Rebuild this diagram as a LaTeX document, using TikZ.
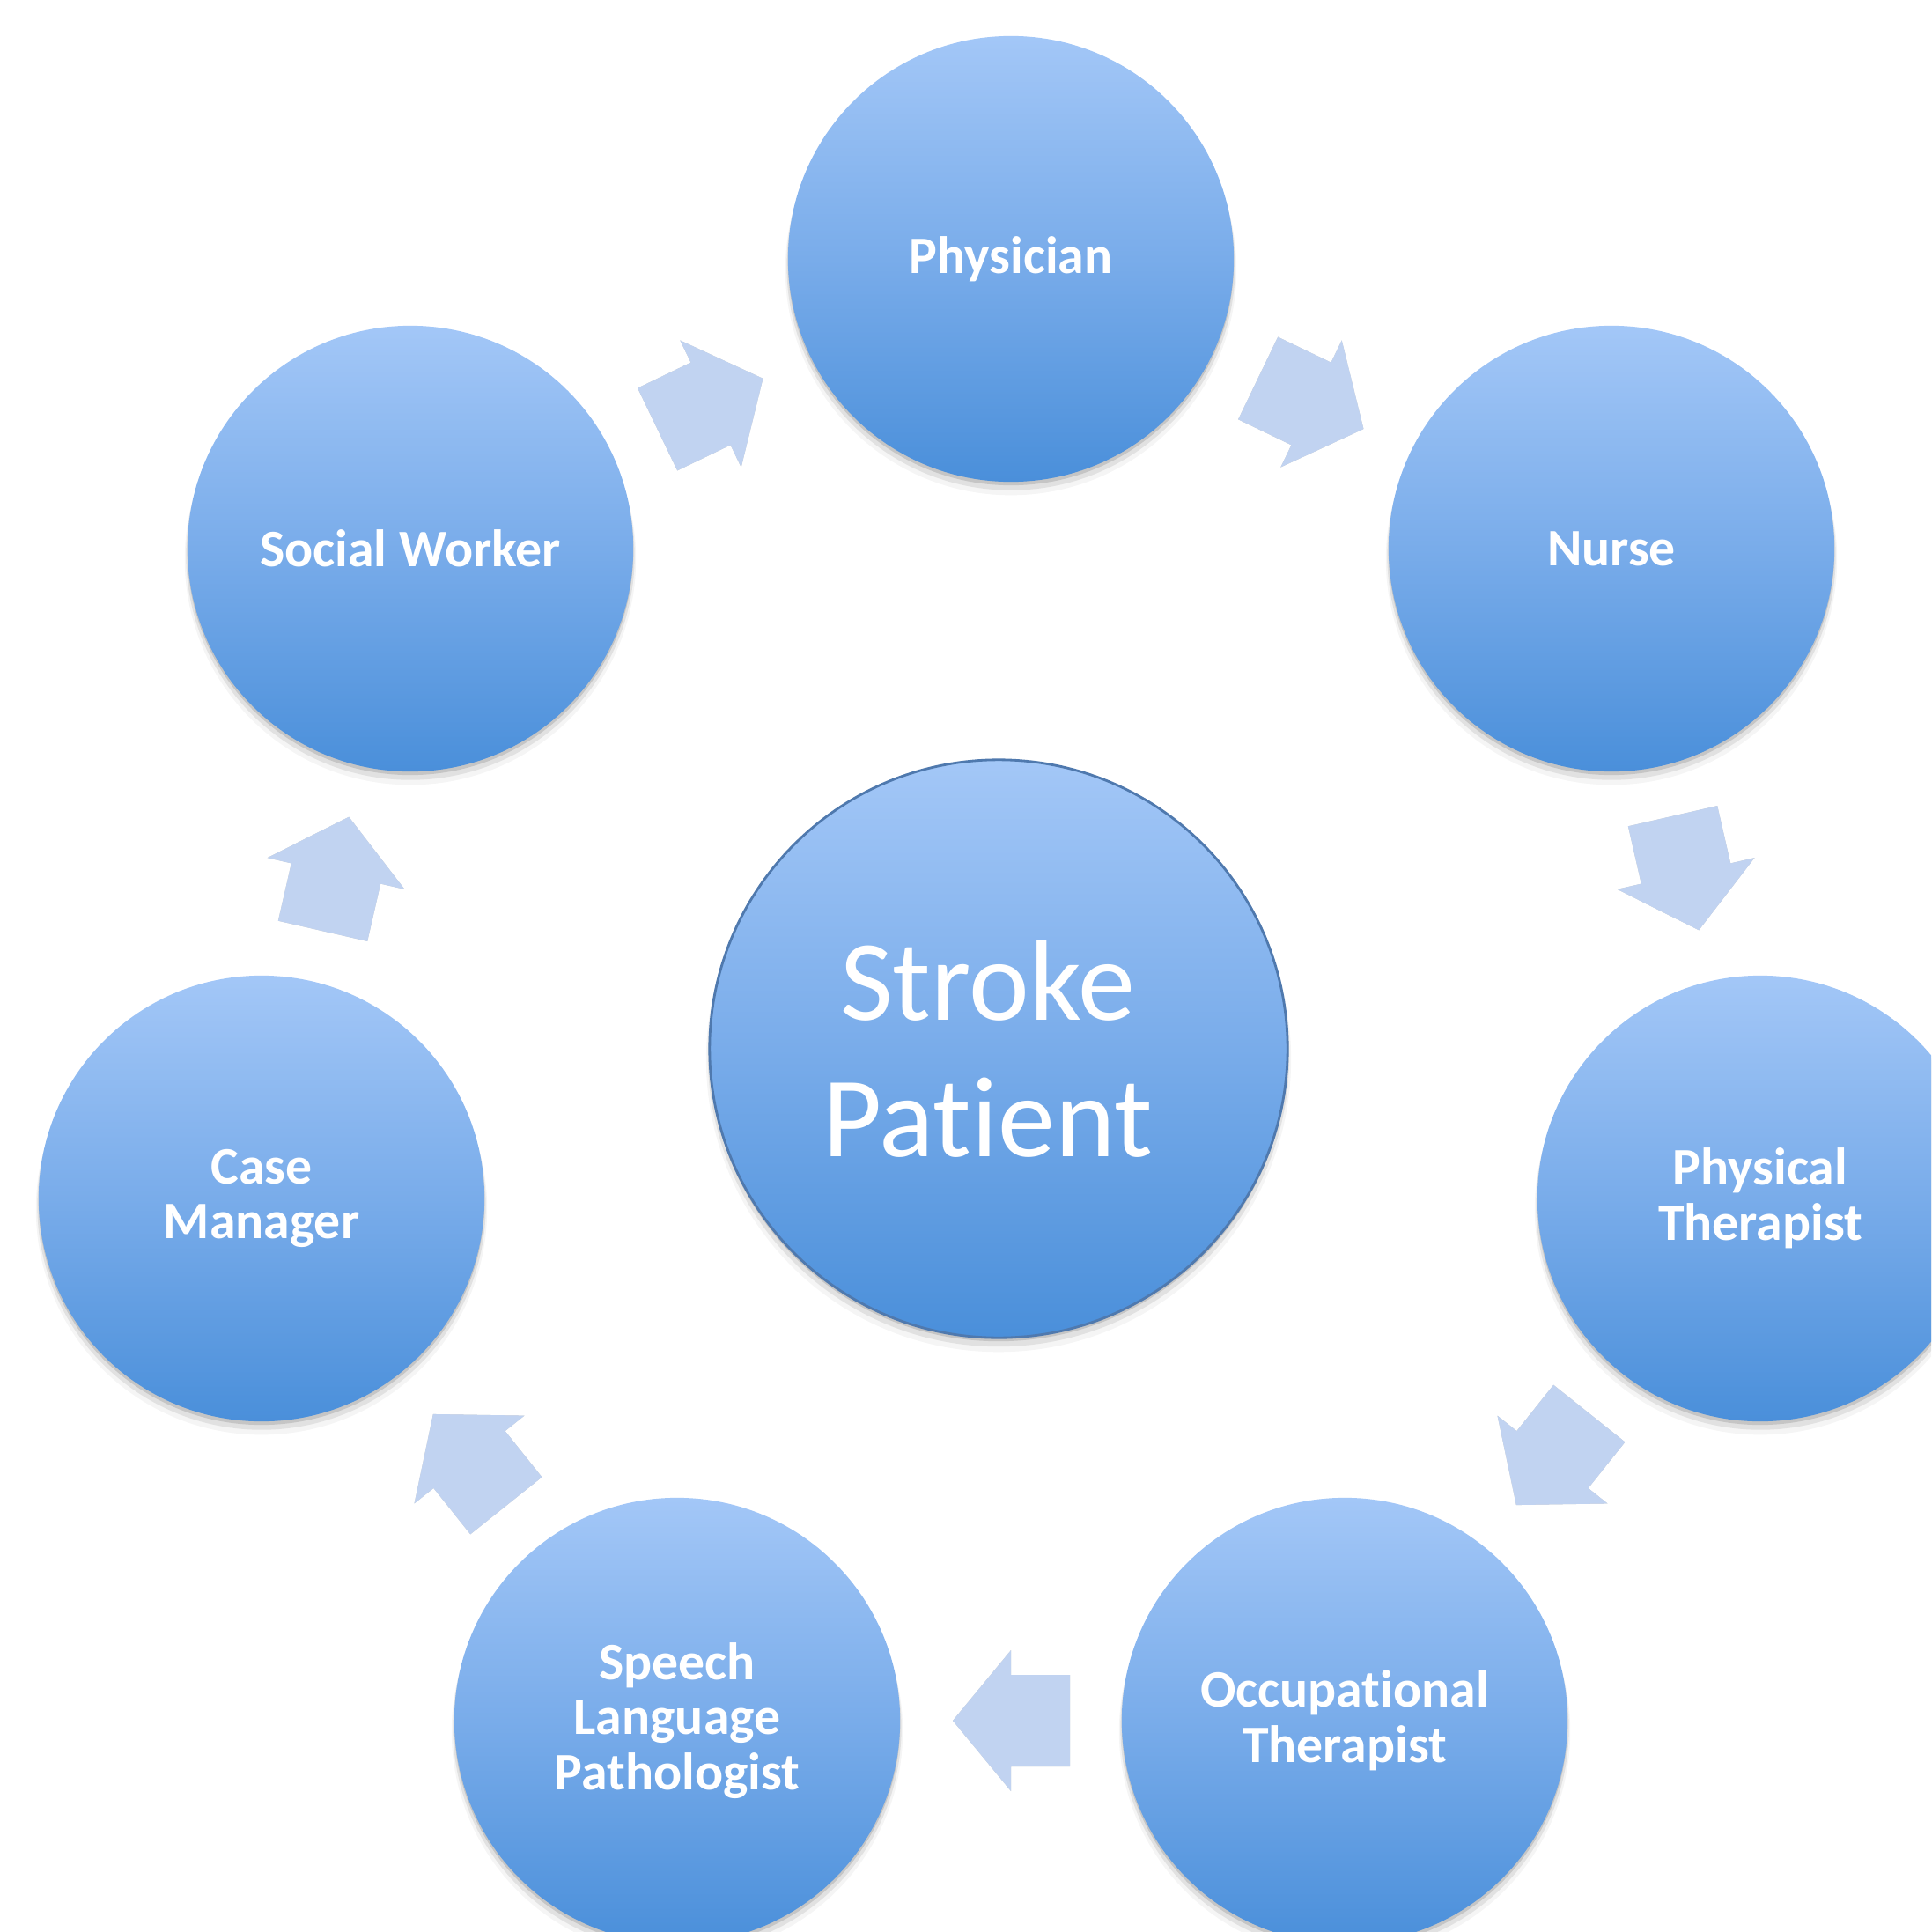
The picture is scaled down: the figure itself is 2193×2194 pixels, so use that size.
\documentclass[tikz,border=0pt]{standalone}
\usepackage{fontspec}
\setmainfont{Carlito}[Ligatures=NoCommon]
\usetikzlibrary{calc,shadows}
\definecolor{ctop}{HTML}{A3C7F7}
\definecolor{cmid}{HTML}{79ACEA}
\definecolor{cbot}{HTML}{4A8FDA}
\definecolor{arrowfill}{HTML}{C1D3F1}
\definecolor{cedge}{HTML}{4F79AE}
\tikzset{
  softshadow/.style={
    general shadow={fill=black, opacity=0.12, shadow yshift=-0.04cm},
    general shadow={fill=black, opacity=0.08, shadow yshift=-0.08cm, shadow scale=1.006},
    general shadow={fill=black, opacity=0.04, shadow yshift=-0.12cm, shadow scale=1.012}},
  role/.style={circle, minimum size=5.06cm, inner sep=0pt, softshadow,
    top color=ctop, bottom color=cbot, middle color=cmid, text=white,
    align=center, font=\bfseries\fontsize{17}{17.8}\selectfont},
  hub/.style={role, minimum size=6.56cm, draw=cedge, line width=0.8pt,
    font=\fontsize{37}{44}\selectfont},
  blockarrow/.style={fill=arrowfill, draw=none},
}
\newcommand\cyclearrow[2]{%
  \foreach \d/\o in {0.03/0.10,0.06/0.07,0.09/0.04}{%
    \fill[black, opacity=\o, yshift=-\d cm, shift={(#1)}, rotate=#2]
      (-67,-52) -- (0,-52) -- (0,-80) -- (66,0) -- (0,80) -- (0,52) -- (-67,52) -- cycle;}
  \fill[blockarrow, shift={(#1)}, rotate=#2]
      (-67,-52) -- (0,-52) -- (0,-80) -- (66,0) -- (0,80) -- (0,52) -- (-67,52) -- cycle;}
\begin{document}
\begin{tikzpicture}[x=0.01cm, y=-0.01cm]
\useasboundingbox (0,0) rectangle (2193,2194);
\fill[white] (0,0) rectangle (2193,2194);
\clip (0,0) rectangle (2193,2194);
% nodes
\node[role] (ph) at (1148,294)  {Physician};
\node[role] (nu) at (1830,623)  {Nurse};
\node[role] (pt) at (1999,1361) {Physical\\Therapist};
\node[role] (ot) at (1527,1954) {Occupational\\Therapist};
\node[role] (sp) at (769,1954)  {Speech\\Language\\Pathologist};
\node[role] (cm) at (297,1361)  {Case\\Manager};
\node[role] (sw) at (466,623)   {Social Worker};
\node[hub]  (hub) at (1134,1191) {\hspace*{-0.25cm}Stroke\\\hspace*{-0.25cm}Patient};
% arrow anchor points
\coordinate (a1) at ($(sw)!0.5!(ph)$);
\coordinate (a2) at ($(ph)!0.5!(nu)$);
\coordinate (a3) at ($(nu)!0.5!(pt)$);
\coordinate (a4) at ($(pt)!0.5!(ot)$);
\coordinate (a5) at ($(ot)!0.5!(sp)$);
\coordinate (a6) at ($(sp)!0.5!(cm)$);
\coordinate (a7) at ($(cm)!0.5!(sw)$);
\cyclearrow{a1}{25.7}
\cyclearrow{a2}{-25.7}
\cyclearrow{a3}{-77.1}
\cyclearrow{a4}{-128.6}
\cyclearrow{a5}{180}
\cyclearrow{a6}{128.6}
\cyclearrow{a7}{77.1}
\end{tikzpicture}
\end{document}
